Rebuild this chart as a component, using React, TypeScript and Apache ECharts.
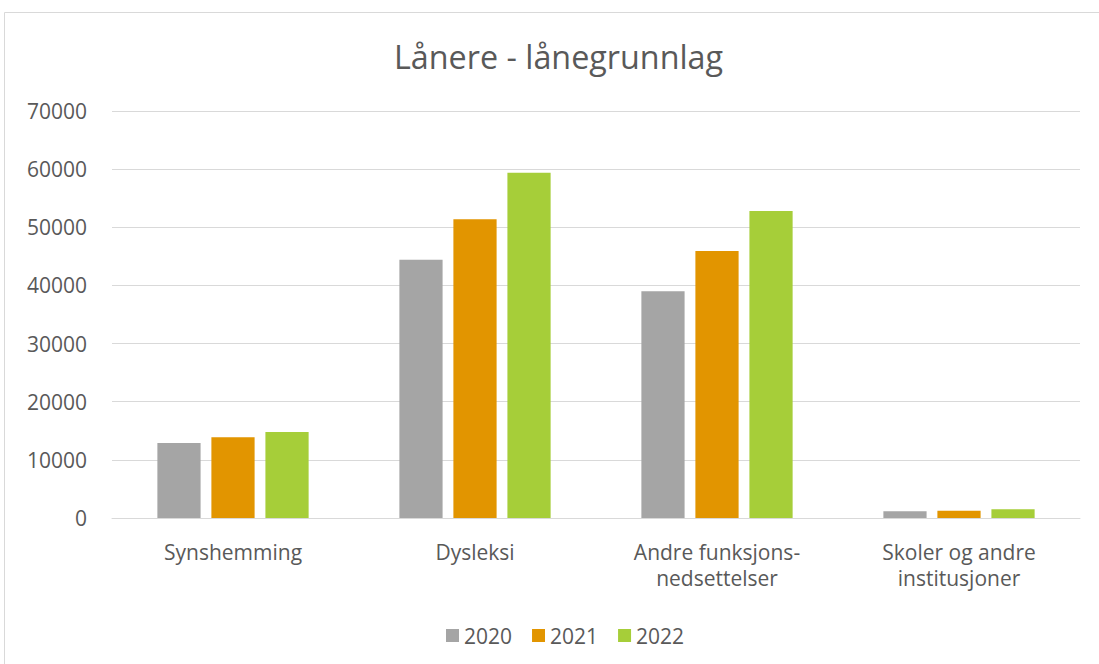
import React, { useEffect, useRef } from "react";
import * as echarts from "echarts";

const categories = [
  "Synshemming",
  "Dysleksi",
  "Andre funksjons-\nnedsettelser",
  "Skoler og andre\ninstitusjoner",
];
const years = ["2020", "2021", "2022"];
const values2020 = [12900, 44400, 39000, 1150];
const values2021 = [13900, 51400, 45900, 1260];
const values2022 = [14800, 59400, 52800, 1500];
const colors = ["#A5A5A5", "#E29500", "#A6CE39"];
const yTicks = { min: 0, max: 70000, interval: 10000 };

const FONT = "'Open Sans', sans-serif";

export default function App() {
  const ref = useRef<HTMLDivElement>(null);
  useEffect(() => {
    if (!ref.current) return;
    const chart = echarts.init(ref.current, undefined, { renderer: "svg" });
    const seriesData = [values2020, values2021, values2022];
    chart.setOption({
      animation: false,
      backgroundColor: "#ffffff",
      textStyle: { fontFamily: FONT },
      title: {
        text: "Lånere - lånegrunnlag",
        left: 389,
        top: 35,
        textStyle: { fontFamily: FONT, fontSize: 32.3, fontWeight: "normal", color: "#595959" },
      },
      graphic: [
        {
          type: "rect",
          shape: { x: 4.5, y: 12.5, width: 1200, height: 800 },
          style: { fill: "none", stroke: "#D9D9D9", lineWidth: 1 },
          silent: true,
        },
      ],
      legend: {
        left: 441,
        top: 620,
        itemWidth: 13,
        itemHeight: 13,
        itemGap: 20,
        icon: "rect",
        textStyle: { fontFamily: FONT, fontSize: 21, color: "#595959" },
        data: years,
      },
      grid: { left: 112, right: 19, top: 111, bottom: 146, containLabel: false },
      xAxis: {
        type: "category",
        data: categories,
        axisLine: { show: true, lineStyle: { color: "#D9D9D9", width: 1 } },
        axisTick: { show: false },
        axisLabel: {
          fontFamily: FONT,
          fontSize: 21,
          color: "#595959",
          lineHeight: 26,
          margin: 21,
          interval: 0,
        },
      },
      yAxis: {
        type: "value",
        min: yTicks.min,
        max: yTicks.max,
        interval: yTicks.interval,
        axisLine: { show: false },
        axisTick: { show: false },
        splitLine: { lineStyle: { color: "#D9D9D9", width: 1 } },
        axisLabel: {
          fontFamily: FONT,
          fontSize: 21,
          color: "#595959",
          margin: 25,
          formatter: (v: number) => String(v),
        },
      },
      series: years.map((y, i) => ({
        name: y,
        type: "bar",
        data: seriesData[i],
        barGap: "25%",
        barCategoryGap: "37.5%",
        itemStyle: { color: colors[i] },
      })),
    });
    return () => chart.dispose();
  }, []);
  return (
    <div
      ref={ref}
      style={{ position: "absolute", left: 0, top: 0, width: 1099, height: 664 }}
    />
  );
}
